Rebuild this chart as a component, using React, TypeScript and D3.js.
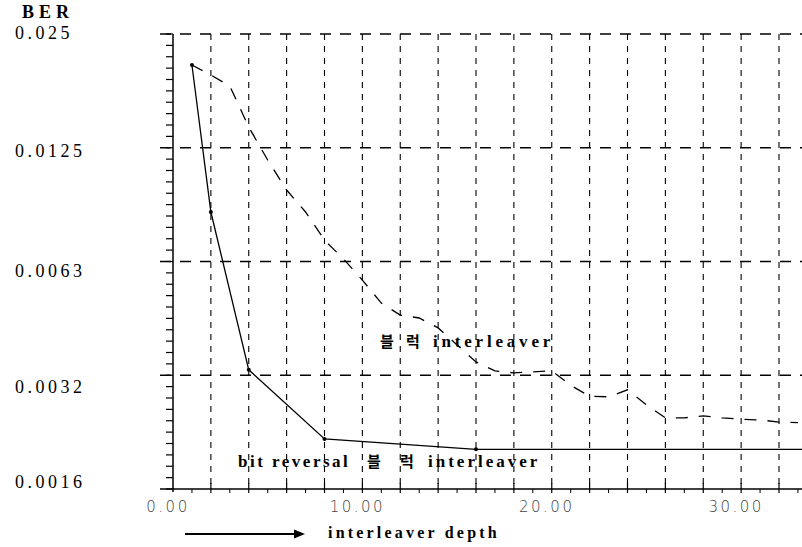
import React from 'react'
import { scaleLinear, scaleLog, line, range } from 'd3'

// y ticks (BER, log2 spaced) and their printed labels
const berTicks = [0.025, 0.0125, 0.00625, 0.003125, 0.0015625]
const berTickLabels = ['0.025', '0.0125', '0.0063', '0.0032', '0.0016']
const depthLabelTicks = [0, 10, 20, 30]
const depthLabelText = ['0.00', '10.00', '20.00', '30.00']

// bit reversal block interleaver (solid)
const depthBitRev = [1, 2, 4, 8, 16, 32, 34]
const berBitRev = [0.0207, 0.00845, 0.00323, 0.00212, 0.00199, 0.00199, 0.00199]

// block interleaver (dashed)
const depthBlock = [1, 2, 3, 4, 5, 6, 7, 8, 9, 10, 11, 12, 13, 14, 15, 16, 17, 18, 19, 20,
  21, 22, 23, 24, 25, 26, 27, 28, 29, 30, 31, 32, 33]
const berBlock = [0.0207, 0.01947, 0.01821, 0.01418, 0.0116, 0.00966, 0.00845, 0.00712,
  0.00635, 0.00558, 0.00485, 0.00451, 0.00443, 0.00417, 0.00376, 0.00339, 0.00321,
  0.00317, 0.00319, 0.00321, 0.00294, 0.00275, 0.00274, 0.00286, 0.00261, 0.00241,
  0.00241, 0.00244, 0.00241, 0.00239, 0.00238, 0.00235, 0.00234]

// the scanned tick labels sit a little off their grid lines
const labelNudge = [-1, 3, 9, 12, -7]

export default function App() {
  const W = 802
  const H = 547
  const x = scaleLinear().domain([0, 32]).range([173, 779])
  const y = scaleLog().base(2).domain([0.0015625, 0.025]).range([489, 34])
  const x0 = x(0)
  const yBottom = y(0.0015625)

  const mkLine = line<[number, number]>()
    .x(d => x(d[0]))
    .y(d => y(d[1]))

  const solidPts: [number, number][] = depthBitRev.map((d, i) => [d, berBitRev[i]])
  const dashPts: [number, number][] = depthBlock.map((d, i) => [d, berBlock[i]])

  // minor y ticks: 10 per octave
  const minorY = range(0, 41).map(i => 0.025 / Math.pow(2, i / 10))
  const gridX = range(2, 34, 2)
  const minorX = range(1, 34, 2)

  const serif = '"Liberation Serif", "DejaVu Serif", serif'
  const kr = '"Noto Sans CJK KR", "Liberation Serif", serif'

  return (
    <svg width={W} height={H} style={{ position: 'absolute', left: 0, top: 0, background: '#fff' }}>
      <rect x={0} y={0} width={W} height={H} fill="#fff" />

      {/* horizontal dashed grid */}
      {berTicks.slice(0, 4).map(t => (
        <line key={'h' + t} x1={160} x2={W} y1={y(t)} y2={y(t)}
          stroke="#000" strokeWidth={1.5} strokeDasharray="11,9" />
      ))}
      {/* vertical dashed grid */}
      {gridX.map(v => (
        <line key={'v' + v} x1={x(v)} x2={x(v)} y1={y(0.025)} y2={yBottom}
          stroke="#000" strokeWidth={1.1} strokeDasharray="6,6" />
      ))}

      {/* y axis */}
      <line x1={x0} x2={x0} y1={y(0.025)} y2={yBottom + 3} stroke="#000" strokeWidth={1.5} />
      {minorY.map((t, i) => (
        <line key={'my' + i} x1={x0 - 7} x2={x0} y1={y(t)} y2={y(t)} stroke="#000" strokeWidth={1.2} />
      ))}

      {/* x axis */}
      <line x1={160} x2={W} y1={yBottom} y2={yBottom} stroke="#000" strokeWidth={1.5} />
      {gridX.map(v => (
        <line key={'tx' + v} x1={x(v)} x2={x(v)} y1={yBottom - 6} y2={yBottom + 4} stroke="#000" strokeWidth={1.2} />
      ))}
      {minorX.map(v => (
        <line key={'mx' + v} x1={x(v)} x2={x(v)} y1={yBottom} y2={yBottom + 4} stroke="#000" strokeWidth={1} />
      ))}

      {/* curves */}
      <path d={mkLine(dashPts) || ''} fill="none" stroke="#000" strokeWidth={1.3} strokeDasharray="12,11" />
      <path d={mkLine(solidPts) || ''} fill="none" stroke="#000" strokeWidth={1.3} />
      {solidPts.slice(0, 5).map((p, i) => (
        <circle key={'s' + i} cx={x(p[0])} cy={y(p[1])} r={2} fill="#000" />
      ))}

      {/* y labels */}
      <text x={22} y={12} dominantBaseline="central" fontFamily={serif} fontSize={18}
        fontWeight="bold" letterSpacing={5}>BER</text>
      {berTicks.map((t, i) => (
        <text key={'yl' + t} x={15} y={y(t) + labelNudge[i]} dominantBaseline="central" fontFamily={serif}
          fontSize={18} letterSpacing={3.5}>{berTickLabels[i]}</text>
      ))}

      {/* x labels */}
      {depthLabelTicks.map((v, i) => (
        <text key={'xl' + v} x={x(v) - 5} y={507} dominantBaseline="central" textAnchor="middle"
          fontFamily='"DejaVu Sans", sans-serif' fontWeight={300} fontSize={15} letterSpacing={2.5}
          fill="#444">{depthLabelText[i]}</text>
      ))}

      {/* axis title with arrow */}
      <line x1={185} x2={296} y1={534} y2={534} stroke="#000" strokeWidth={2} />
      <path d="M294,529.5 L305,534 L294,538.5 Z" fill="#000" />
      <text x={328} y={532} dominantBaseline="central" fontFamily={serif} fontSize={16}
        fontWeight="bold" letterSpacing={3.2}>interleaver depth</text>

      {/* curve labels */}
      <g fontSize={17} fontWeight="bold">
        <text x={380} y={340} dominantBaseline="central" fontFamily={kr} fontSize={15}>블</text>
        <text x={406} y={340} dominantBaseline="central" fontFamily={kr} fontSize={15}>럭</text>
        <text x={433} y={341} dominantBaseline="central" fontFamily={serif} letterSpacing={3.8}>interleaver</text>

        <text x={238} y={461} dominantBaseline="central" fontFamily={serif} letterSpacing={2.5}>bit reversal</text>
        <text x={367} y={460} dominantBaseline="central" fontFamily={kr} fontSize={15}>블</text>
        <text x={400} y={460} dominantBaseline="central" fontFamily={kr} fontSize={15}>럭</text>
        <text x={428} y={461} dominantBaseline="central" fontFamily={serif} letterSpacing={3}>interleaver</text>
      </g>
    </svg>
  )
}
